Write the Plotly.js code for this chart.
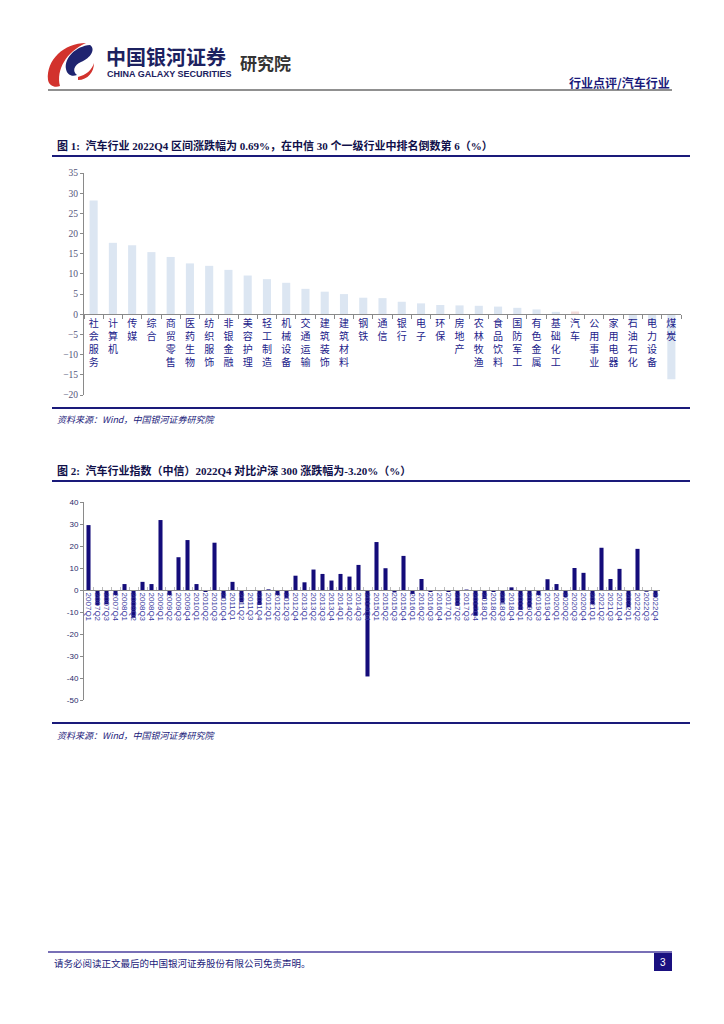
<!DOCTYPE html>
<html>
<head>
<meta charset="utf-8">
<script src="https://cdn.plot.ly/plotly-3.0.1.min.js"></script>
<style>
html,body{margin:0;padding:0;background:#fff;}
#page{width:724px;height:1024px;}
</style>
</head>
<body>
<div id="page"></div>
<script>
// ---------- DATA ----------
const industries = ['社会服务','计算机','传媒','综合','商贸零售','医药生物','纺织服饰','非银金融','美容护理','轻工制造',
  '机械设备','交通运输','建筑装饰','建筑材料','钢铁','通信','银行','电子','环保','房地产',
  '农林牧渔','食品饮料','国防军工','有色金属','基础化工','汽车','公用事业','家用电器','石油石化','电力设备','煤炭'];
const industryChange = [28.2,17.7,17.1,15.4,14.2,12.6,12.0,11.0,9.6,8.7,
  7.8,6.3,5.6,5.0,4.1,4.0,3.1,2.7,2.3,2.2,
  2.1,1.9,1.6,1.2,0.6,0.69,-0.05,-0.3,-2.0,-2.2,-16.1];
const highlightIndustry = '汽车';

const quarters = [
  '2007Q1','2007Q2','2007Q3','2007Q4','2008Q1','2008Q2','2008Q3','2008Q4',
  '2009Q1','2009Q2','2009Q3','2009Q4','2010Q1','2010Q2','2010Q3','2010Q4',
  '2011Q1','2011Q2','2011Q3','2011Q4','2012Q1','2012Q2','2012Q3','2012Q4',
  '2013Q1','2013Q2','2013Q3','2013Q4','2014Q1','2014Q2','2014Q3','2014Q4',
  '2015Q1','2015Q2','2015Q3','2015Q4','2016Q1','2016Q2','2016Q3','2016Q4',
  '2017Q1','2017Q2','2017Q3','2017Q4','2018Q1','2018Q2','2018Q3','2018Q4',
  '2019Q1','2019Q2','2019Q3','2019Q4','2020Q1','2020Q2','2020Q3','2020Q4',
  '2021Q1','2021Q2','2021Q3','2021Q4','2022Q1','2022Q2','2022Q3','2022Q4'];
const relativeChange = [
  29.5,-6.8,-6.5,-2.3,2.7,-12.6,3.7,2.7,
  31.8,-2.3,14.9,22.7,2.7,-0.9,21.5,-3.8,
  3.7,-5.6,-0.3,-6.8,0.3,-2.3,-3.8,6.5,
  3.5,9.3,7.3,4.3,7.3,6.1,11.4,-39.3,
  21.8,9.9,-1.1,15.5,-1.8,5.0,-0.9,-0.5,
  -0.9,-7.2,0.2,-11.7,-4.1,-0.9,-5.8,1.2,
  -9.1,-7.9,-2.3,4.9,2.7,-3.2,10.0,7.8,
  -6.5,19.2,5.0,9.6,-7.8,18.7,-0.8,-3.2];

const chart1TickVals = [-20,-15,-10,-5,0,5,10,15,20,25,30,35];
const chart2TickVals = [-50,-40,-30,-20,-10,0,10,20,30,40];
const chart2TickText = ['-50','-40','-30','-20','-10','0','10','20','30','40'];

// ---------- helpers ----------
const W = 724, H = 1024;
const px = x => x / W;
const py = y => 1 - y / H;
function shapePath(d){ // pixel path -> paper path
  let i = 0;
  return d.replace(/-?\d+(\.\d+)?/g, m => { const v = parseFloat(m); const r = (i % 2 === 0) ? px(v) : py(v); i++; return r.toFixed(5); });
}

const navy = '#1a1a7a';
const cjk = 'Noto Sans CJK SC';
const serifMix = 'Liberation Serif, Noto Sans CJK SC';

// ---------- geometry ----------
const c1 = {x0:84, x1:681, yTop:173, yBot:395, lo:-20, hi:35};
const c1Zero = c1.yTop + (c1.hi - 0) / (c1.hi - c1.lo) * (c1.yBot - c1.yTop);
const c2 = {x0:84, x1:660, yTop:502, yBot:700, lo:-50, hi:40};
const c2Zero = c2.yTop + (c2.hi - 0) / (c2.hi - c2.lo) * (c2.yBot - c2.yTop);

const traces = [
  {
    type:'bar', x: industries, y: industryChange, xaxis:'x', yaxis:'y',
    marker:{color: industries.map(c => c === highlightIndustry ? '#f2dcdb' : '#dce6f2')},
    width: 0.42, hoverinfo:'skip'
  },
  {
    type:'bar', x: quarters, y: relativeChange, xaxis:'x2', yaxis:'y2',
    marker:{color:'#140c7a'}, width: 0.45, hoverinfo:'skip'
  }
];

const annotations = [
  {text:'<b>中国银河证券</b>', x:px(104), y:py(56), xanchor:'left', yanchor:'middle', font:{family:cjk, size:20, color:'#1c2160'}},
  {text:'<b>CHINA GALAXY SECURITIES</b>', x:px(105), y:py(74), xanchor:'left', yanchor:'middle', font:{family:'Liberation Sans Narrow, Liberation Sans', size:9, color:'#1c2160'}},
  {text:'<b>研究院</b>', x:px(238), y:py(62), xanchor:'left', yanchor:'middle', font:{family:cjk, size:17, color:'#333333'}},
  {text:'<b>行业点评/汽车行业</b>', x:px(672), y:py(82), xanchor:'right', yanchor:'middle', font:{family:cjk, size:12, color:navy}},

  {text:'<b>图 1:  汽车行业 2022Q4 区间涨跌幅为 0.69%，在中信 30 个一级行业中排名倒数第 6（%）</b>', x:px(55), y:py(145), xanchor:'left', yanchor:'middle', font:{family:serifMix, size:11, color:'#10104a'}},
  {text:'<i>资料来源：Wind，中国银河证券研究院</i>', x:px(55), y:py(419), xanchor:'left', yanchor:'middle', font:{family:cjk, size:9, color:navy}},

  {text:'<b>图 2:  汽车行业指数（中信）2022Q4 对比沪深 300 涨跌幅为-3.20%（%）</b>', x:px(55), y:py(470), xanchor:'left', yanchor:'middle', font:{family:serifMix, size:11, color:'#10104a'}},
  {text:'<i>资料来源：Wind，中国银河证券研究院</i>', x:px(55), y:py(735), xanchor:'left', yanchor:'middle', font:{family:cjk, size:9, color:navy}},

  {text:'请务必阅读正文最后的中国银河证券股份有限公司免责声明。', x:px(52), y:py(963), xanchor:'left', yanchor:'middle', font:{family:cjk, size:9.5, color:navy}},
  {text:'3', x:px(663), y:py(962), xanchor:'center', yanchor:'middle', font:{family:'Liberation Sans', size:10, color:'#ffffff'}}
].map(a => Object.assign({xref:'paper', yref:'paper', showarrow:false}, a));

const line = (x0,y0,x1,y1,color,w) => ({type:'line', xref:'paper', yref:'paper', x0:px(x0), y0:py(y0), x1:px(x1), y1:py(y1), line:{color, width:w}});
const shapes = [
  // logo
  {type:'path', xref:'paper', yref:'paper', fillcolor:'#d2322d', line:{width:0},
   path: shapePath('M 86 43 C 64 43 46 60 48 80 C 49 86 55 88 60 86 C 56 70 66 52 86 43 Z')},
  {type:'path', xref:'paper', yref:'paper', fillcolor:'#1f2470', line:{width:0},
   path: shapePath('M 90 45 C 76 46 64 58 66 69 C 67 75 72 77 77 75 C 72 71 74 65 81 62 C 91 58 96 49 90 45 Z')},
  {type:'path', xref:'paper', yref:'paper', fillcolor:'#d2322d', line:{width:0},
   path: shapePath('M 78 77 C 86 75 92 70 94 63 C 94 72 88 80 78 80 Z')},
  // header rule
  line(48, 90, 672, 90, '#222222', 1.2),
  // chart 1 frame lines
  line(52, 156, 690, 156, navy, 2.2),
  line(52, 408, 690, 408, navy, 2.2),
  // chart 2 frame lines
  line(52, 481, 690, 481, navy, 2.2),
  line(52, 723, 690, 723, navy, 2.2),
  // footer
  line(48, 952, 672, 952, '#4b3f9e', 1.6),
  {type:'rect', xref:'paper', yref:'paper', x0:px(654), x1:px(672), y0:py(971), y1:py(953), fillcolor:'#1a1080', line:{width:0}}
];

const layout = {
  width: W, height: H, margin:{l:0, r:0, t:0, b:0},
  paper_bgcolor:'#ffffff', plot_bgcolor:'rgba(0,0,0,0)',
  showlegend:false, barmode:'group',
  xaxis:{
    domain:[px(c1.x0), px(c1.x1)], anchor:'free', position: py(c1Zero),
    type:'category', showline:true, linecolor:'#8a8a8a', linewidth:1,
    ticks:'outside', tickson:'boundaries', ticklen:4, tickcolor:'#8a8a8a',
    tickmode:'array', tickvals: industries, ticktext: industries.map(s => s.split('').join('<br>')),
    tickangle:0, tickfont:{family:cjk, size:10, color:'#22228a'},
    showgrid:false, zeroline:false, fixedrange:true
  },
  yaxis:{
    domain:[py(c1.yBot), py(c1.yTop)], anchor:'x', range:[c1.lo, c1.hi],
    tickmode:'array', tickvals: chart1TickVals, showline:true, linecolor:'#8a8a8a', linewidth:1,
    ticks:'outside', ticklen:3, tickcolor:'#8a8a8a',
    tickfont:{family:'Liberation Serif', size:9.5, color:'#55557a'},
    showgrid:false, zeroline:false, fixedrange:true
  },
  xaxis2:{
    domain:[px(c2.x0), px(c2.x1)], anchor:'free', position: py(c2Zero),
    type:'category', showline:true, linecolor:'#8a8a8a', linewidth:1,
    ticks:'inside', tickson:'boundaries', ticklen:3, tickcolor:'#bbbbbb',
    tickmode:'array', tickvals: quarters, ticktext: quarters,
    tickangle:90, tickfont:{family:'Liberation Sans', size:8, color:'#3a3aa0'},
    showgrid:false, zeroline:false, fixedrange:true
  },
  yaxis2:{
    domain:[py(c2.yBot), py(c2.yTop)], anchor:'x2', range:[c2.lo, c2.hi],
    tickmode:'array', tickvals: chart2TickVals, ticktext: chart2TickText,
    showline:true, linecolor:'#8a8a8a', linewidth:1,
    ticks:'outside', ticklen:3, tickcolor:'#8a8a8a',
    tickfont:{family:'Liberation Sans', size:8, color:'#2a2a6a'},
    showgrid:false, zeroline:false, fixedrange:true
  },
  annotations, shapes
};

Plotly.newPlot('page', traces, layout, {staticPlot:true, displayModeBar:false});
</script>
</body>
</html>
